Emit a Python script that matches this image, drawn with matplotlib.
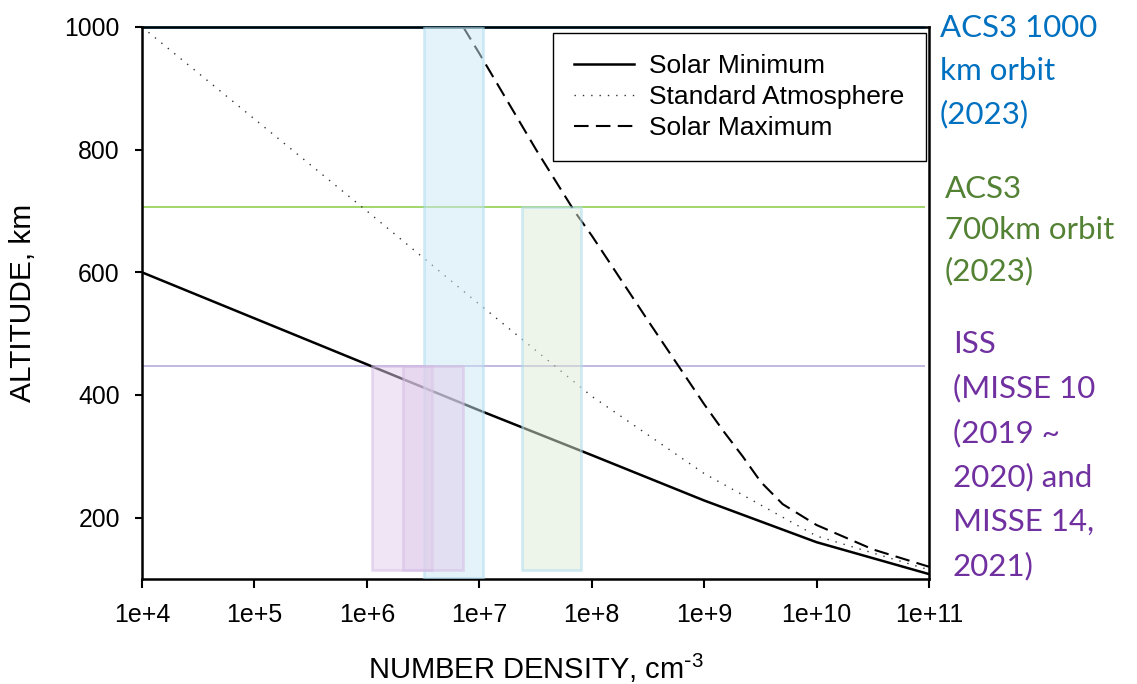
import matplotlib
matplotlib.use("Agg")
import matplotlib.pyplot as plt
from matplotlib.patches import Rectangle
from matplotlib.ticker import FixedLocator, FixedFormatter

plt.rcParams['font.family'] = ['Liberation Sans', 'DejaVu Sans']
plt.rcParams['mathtext.default'] = 'regular'

# density profiles (cm^-3 vs km)
solar_min_density = [1e4, 1e5, 1e6, 1e7, 1e8, 1e9, 1e10, 1e11]
solar_min_alt = [600, 525, 450, 375, 302, 228, 160, 108]

std_atm_density = [1e4, 1e5, 1e6, 1e7, 1e8, 1e9, 1e10, 1e11]
std_atm_alt = [1000, 850, 700, 548, 398, 272, 170, 115]

solar_max_density = [7.2e6, 1e7, 3.2e7, 7e7, 1e8, 3.2e8, 1e9, 1.5e9, 2.2e9, 3.2e9, 5e9,
                     1e10, 3.2e10, 1e11]
solar_max_alt = [1000, 957, 800, 700, 660, 520, 385, 340, 300, 258, 222, 188, 148, 120]

# orbit altitudes (km)
orbit_alt = [1000, 707, 447]
orbit_colors = ['#1ba1e2', '#92d050', '#b9abdb']

# shaded boxes: (density low, density high, alt low, alt high)
box_x0 = [3.2e6, 2.4e7, 1.12e6, 2.1e6]
box_x1 = [1.07e7, 8.05e7, 3.8e6, 7.2e6]
box_y0 = [102, 114, 114, 114]
box_y1 = [1000, 707, 447, 447]
box_fill = ['#cbe7f5', '#ddebd5', '#e1cdec', '#e1cdec']
box_edge = ['#a9dbef', '#a9dbef', '#d3bbe4', '#d3bbe4']

xticks = [1e4, 1e5, 1e6, 1e7, 1e8, 1e9, 1e10, 1e11]
xtick_labels = ['1e+4', '1e+5', '1e+6', '1e+7', '1e+8', '1e+9', '1e+10', '1e+11']
yticks = [200, 400, 600, 800, 1000]

# right side notes
blue_lines = ['ACS3 1000', 'km orbit', '(2023)']
green_lines = ['ACS3', '700km orbit', '(2023)']
purple_lines = ['ISS', '(MISSE 10', '(2019 ~', '2020) and', 'MISSE 14,', '2021)']

W, H = 1137, 684
fig = plt.figure(figsize=(W / 100, H / 100), dpi=100)
ax = fig.add_axes([142 / W, 1 - 579 / H, 787 / W, 552 / H])

ax.plot(solar_min_density, solar_min_alt, color='black', lw=1.8, label='Solar Minimum', zorder=2)
ax.plot(std_atm_density, std_atm_alt, color='#333333', lw=1.0, linestyle=(0, (1, 5)),
        label='Standard Atmosphere', zorder=2)
ax.plot(solar_max_density, solar_max_alt, color='black', lw=1.5, linestyle=(0, (7, 3.5)),
        label='Solar Maximum', zorder=2)

for alt, c in zip(orbit_alt, orbit_colors):
    ax.hlines(alt, 1e4, 9.2e10, color=c, lw=1.8 if alt == 1000 else 1.2, zorder=1.5, clip_on=False)

for x0, x1, y0, y1, fc, ec in zip(box_x0, box_x1, box_y0, box_y1, box_fill, box_edge):
    ax.add_patch(Rectangle((x0, y0), x1 - x0, y1 - y0, facecolor=fc, edgecolor=ec,
                           lw=2, alpha=0.5, zorder=3))

ax.set_xscale('log')
ax.set_xlim(1e4, 1e11)
ax.set_ylim(100, 1000)
ax.xaxis.set_major_locator(FixedLocator(xticks))
ax.xaxis.set_major_formatter(FixedFormatter(xtick_labels))
ax.xaxis.set_minor_locator(FixedLocator([]))
ax.set_yticks(yticks)

ax.tick_params(axis='x', direction='out', length=6.5, width=1.5, labelsize=18, pad=11)
ax.tick_params(axis='y', direction='out', length=5, width=1.5, labelsize=17.8, pad=11)
for s in ax.spines.values():
    s.set_linewidth(1.8)

ax.set_xlabel(r'NUMBER DENSITY, cm$^{\text{-}3}$', fontsize=21)
ax.xaxis.set_label_coords(0.5, -0.132)
ax.xaxis.label.set_va('top')
ax.set_ylabel('ALTITUDE, km', fontsize=21.5)
ax.yaxis.set_label_coords(-0.133, 0.5)

leg = ax.legend(loc='upper right', bbox_to_anchor=(0.996, 0.989), borderaxespad=0,
                fontsize=19, frameon=True, fancybox=False, framealpha=1,
                edgecolor='black', handlelength=2.25, handletextpad=0.6,
                labelspacing=0.26, borderpad=0.8)
leg.get_frame().set_linewidth(1.0)
leg.set_zorder(5)


def note(lines, x, y, step, color):
    for i, t in enumerate(lines):
        fig.text(x / W, 1 - (y + i * step) / H, t, color=color, fontsize=22.5,
                 family=['Lato', 'DejaVu Sans'], ha='left', va='baseline')


note(blue_lines, 940, 37, 43, '#0070c0')
note(green_lines, 945, 198, 41, '#548235')
note(purple_lines, 953, 353, 44.5, '#7030a0')

fig.savefig('out.png', dpi=100)
